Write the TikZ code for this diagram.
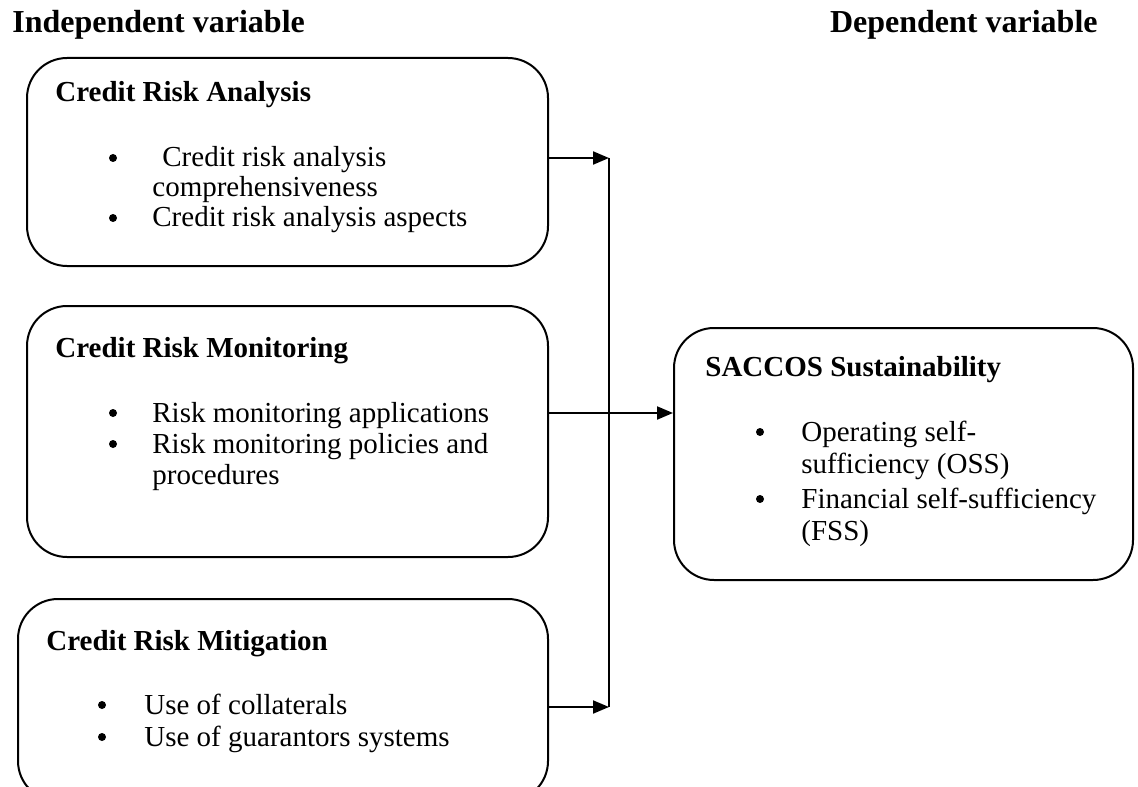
\documentclass[tikz,border=0pt]{standalone}
\usepackage{fontspec}
\setmainfont{Liberation Serif}
\usetikzlibrary{arrows.meta}

\tikzset{
  box/.style={draw, line width=1pt, rounded corners=20pt, anchor=north west, inner sep=0pt},
  colhead/.style={font=\fontsize{16}{18}\selectfont\bfseries, inner sep=0pt},
  boxtitle/.style={font=\fontsize{14.5}{16}\selectfont\bfseries, anchor=base west, inner sep=0pt},
  itemline/.style={font=\fontsize{14.5}{16}\selectfont, anchor=base west, inner sep=0pt},
  bulletdot/.style={circle, fill=black, inner sep=0pt, minimum size=4pt},
  flow/.style={line width=1pt, -{Triangle[length=8pt,width=6.5pt]}},
}

\begin{document}
\begin{tikzpicture}[x=0.5pt,y=-0.5pt]
\useasboundingbox (0,0) rectangle (1138,786);
\clip (0,0) rectangle (1138,786);

% column headings
\node[colhead, anchor=base west] (indep) at (12,33) {Independent variable};
\node[colhead, anchor=base east] (dep) at (1098,33) {Dependent variable};

% boxes
\node[box, minimum width=260.5pt, minimum height=104pt] (analysis) at (26,57) {};
\node[box, minimum width=260.5pt, minimum height=125.5pt] (monitor) at (26,305) {};
\node[box, minimum width=265pt, minimum height=101pt] (mitig) at (17,598) {};
\node[box, minimum width=229.5pt, minimum height=126pt] (sacc) at (673,327) {};

% Credit Risk Analysis
\node[boxtitle] (anT) at (55,102) {Credit Risk Analysis};
\node[bulletdot] (anB1) at (113,158) {};
\node[itemline] (anL1) at (152,167) {\hspace*{5pt}Credit risk analysis};
\node[itemline] (anL2) at (152,197) {comprehensiveness};
\node[bulletdot] (anB2) at (113,218) {};
\node[itemline] (anL3) at (152,227) {Credit risk analysis aspects};

% Credit Risk Monitoring
\node[boxtitle] (moT) at (55,357) {Credit Risk Monitoring};
\node[bulletdot] (moB1) at (113,413) {};
\node[itemline] (moL1) at (152,422) {Risk monitoring applications};
\node[bulletdot] (moB2) at (113,444) {};
\node[itemline] (moL2) at (152,453) {Risk monitoring policies and};
\node[itemline] (moL3) at (152,484) {procedures};

% Credit Risk Mitigation
\node[boxtitle] (miT) at (46,650) {Credit Risk Mitigation};
\node[bulletdot] (miB1) at (102,705) {};
\node[itemline] (miL1) at (144,714) {Use of collaterals};
\node[bulletdot] (miB2) at (102,737) {};
\node[itemline] (miL2) at (144,746) {Use of guarantors systems};

% SACCOS Sustainability
\node[boxtitle] (saT) at (705,376) {SACCOS Sustainability};
\node[bulletdot] (saB1) at (760,432) {};
\node[itemline] (saL1) at (801,441) {Operating self-};
\node[itemline] (saL2) at (801,473) {sufficiency (OSS)};
\node[bulletdot] (saB2) at (760,499) {};
\node[itemline] (saL3) at (801,508) {Financial self-sufficiency};
\node[itemline] (saL4) at (801,540) {(FSS)};

% connectors
\coordinate (jtop) at (609,158);
\coordinate (jbot) at (609,707);
\coordinate (jmid) at (609,413);
\draw[flow] (analysis.east |- jtop) -- (jtop);
\draw[flow] (mitig.east |- jbot) -- (jbot);
\draw[line width=1pt] (jtop) -- (jbot);
\draw[flow] (monitor.east |- jmid) -- (sacc.west |- jmid);
\end{tikzpicture}
\end{document}
